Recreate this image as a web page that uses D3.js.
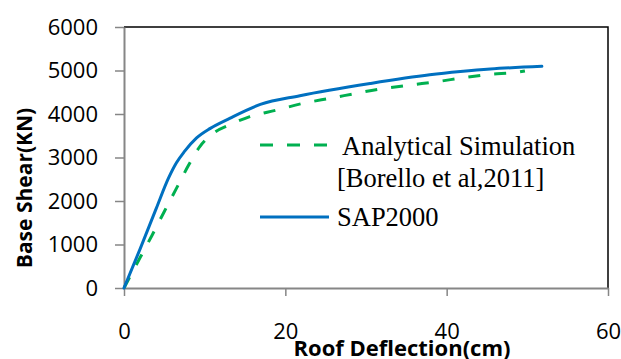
<!DOCTYPE html>
<html>
<head>
<meta charset="utf-8">
<script src="https://cdn.jsdelivr.net/npm/d3@7"></script>
<style>
  body { margin: 0; background: #fff; }
  svg { display: block; }
</style>
</head>
<body>
<svg id="chart" width="621" height="359"></svg>
<script>
// SAP2000 pushover curve (deflection cm, base shear KN)
const sapX = [0, 2, 4, 5.5, 6.5, 7.5, 9, 10.7, 13.1, 16.9, 21.8, 30.5, 37.9, 41.7, 45.4, 51.8];
const sapY = [0, 900, 1830, 2520, 2880, 3140, 3450, 3670, 3900, 4220, 4420, 4700, 4900, 4975, 5035, 5095];

// analytical simulation [Borello et al,2011]
const anaX = [0, 2, 3.5, 5, 6.5, 8, 9.4, 11.1, 13.1, 15.6, 18.9, 22.2, 25.5, 31.7, 35.5, 38.8, 42.1, 45.4, 48.7, 49.7];
const anaY = [0, 700, 1220, 1760, 2290, 2820, 3250, 3560, 3750, 3940, 4090, 4245, 4360, 4570, 4667, 4743, 4835, 4912, 4958, 4990];

const xTicks = [0, 20, 40, 60];
const yTicks = [0, 1000, 2000, 3000, 4000, 5000, 6000];

const svg = d3.select("#chart");

var x = d3.scaleLinear().domain([0, 60]).range([124, 608]);
var y = d3.scaleLinear().domain([0, 6000]).range([288, 27]);

const axisGray = "#868686";

// top and right frame lines
svg.append("path")
  .attr("d", "M" + x(0) + "," + y(6000) + "H" + x(60) + "V" + y(0))
  .attr("fill", "none")
  .attr("stroke", "#000")
  .attr("stroke-width", 1.5);

// y axis
var gy = svg.append("g")
  .attr("transform", "translate(" + x(0) + ",0)")
  .call(d3.axisLeft(y).tickValues(yTicks).tickFormat(d3.format("d"))
    .tickSize(9).tickPadding(17).tickSizeOuter(0));
gy.select(".domain").attr("stroke", axisGray).attr("stroke-width", 2);
gy.selectAll(".tick line").attr("stroke", axisGray).attr("stroke-width", 1.5);
gy.selectAll(".tick text")
  .attr("font-family", "'Open Sans', sans-serif")
  .attr("font-size", 22)
  .attr("fill", "#000");

// x axis
var gx = svg.append("g")
  .attr("transform", "translate(0," + y(0) + ")")
  .call(d3.axisBottom(x).tickValues(xTicks).tickFormat(d3.format("d"))
    .tickSize(8).tickPadding(27).tickSizeOuter(0));
gx.select(".domain").attr("stroke", axisGray).attr("stroke-width", 2);
gx.selectAll(".tick line").attr("stroke", axisGray).attr("stroke-width", 1.5);
gx.selectAll(".tick text")
  .attr("font-family", "'Open Sans', sans-serif")
  .attr("font-size", 22)
  .attr("fill", "#000");

// curves
var line = d3.line()
  .x(function (d) { return x(d[0]); })
  .y(function (d) { return y(d[1]); })
  .curve(d3.curveMonotoneX);

svg.append("path")
  .datum(anaX.map(function (v, i) { return [v, anaY[i]]; }))
  .attr("d", line)
  .attr("fill", "none")
  .attr("stroke", "#00B050")
  .attr("stroke-width", 3)
  .attr("stroke-dasharray", "12,14");

svg.append("path")
  .datum(sapX.map(function (v, i) { return [v, sapY[i]]; }))
  .attr("d", line)
  .attr("fill", "none")
  .attr("stroke", "#0070C0")
  .attr("stroke-width", 3)
  .attr("stroke-linecap", "round");

// legend
svg.append("line")
  .attr("x1", 260).attr("x2", 327).attr("y1", 145).attr("y2", 145)
  .attr("stroke", "#00B050").attr("stroke-width", 3)
  .attr("stroke-dasharray", "13,14");
svg.append("line")
  .attr("x1", 260).attr("x2", 329).attr("y1", 217).attr("y2", 217)
  .attr("stroke", "#0070C0").attr("stroke-width", 3);

var legendText = [
  { t: "Analytical Simulation", x: 342, y: 155 },
  { t: "[Borello et al,2011]", x: 337, y: 187 },
  { t: "SAP2000", x: 337, y: 226 },
];
svg.selectAll(".legend")
  .data(legendText)
  .enter()
  .append("text")
  .attr("class", "legend")
  .attr("x", function (d) { return d.x; })
  .attr("y", function (d) { return d.y; })
  .attr("font-family", "'Liberation Serif', 'Times New Roman', serif")
  .attr("font-size", 26.5)
  .text(function (d) { return d.t; });

// axis titles
svg.append("text")
  .attr("x", 402)
  .attr("y", 356)
  .attr("text-anchor", "middle")
  .attr("font-family", "'Open Sans', sans-serif")
  .attr("font-weight", "bold")
  .attr("font-size", 22)
  .text("Roof Deflection(cm)");

svg.append("text")
  .attr("transform", "translate(32,188) rotate(-90)")
  .attr("text-anchor", "middle")
  .attr("font-family", "'Open Sans', sans-serif")
  .attr("font-weight", "bold")
  .attr("font-size", 21)
  .text("Base Shear(KN)");
</script>
</body>
</html>
